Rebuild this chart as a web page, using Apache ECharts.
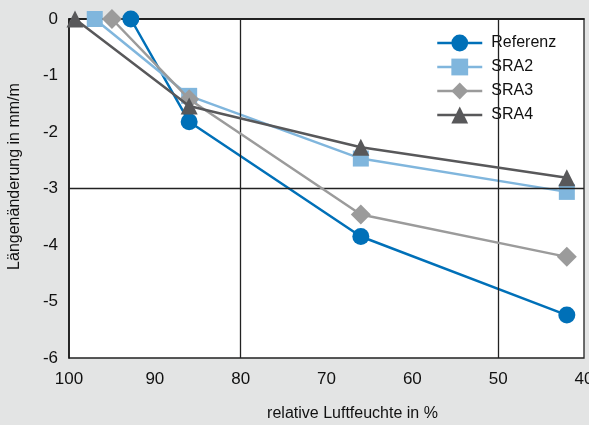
<!DOCTYPE html>
<html>
<head>
<meta charset="utf-8">
<script src="https://cdn.jsdelivr.net/npm/echarts@6/dist/echarts.min.js"></script>
<style>html,body{margin:0;padding:0;background:#e3e4e4;}#c{width:589px;height:425px;}</style>
</head>
<body>
<div id="c"></div>
<script>
const seriesNames = ['Referenz', 'SRA2', 'SRA3', 'SRA4'];
const referenz = [[92.8, 0], [86, -1.82], [66, -3.85], [42, -5.24]];
const sra2 = [[97, 0], [86, -1.36], [66, -2.47], [42, -3.06]];
const sra3 = [[95, 0], [86, -1.42], [66, -3.46], [42, -4.21]];
const sra4 = [[99.3, 0], [86, -1.54], [66, -2.27], [42, -2.81]];
const xTicks = [100, 90, 80, 70, 60, 50, 40];
const yTicks = [0, -1, -2, -3, -4, -5, -6];
const refLinesX = [80, 50];
const refLinesY = [-3];

const FONT = '"Liberation Sans", Arial, sans-serif';
const colors = ['#0070b8', '#80b6dd', '#9b9b9b', '#58585a'];
const symbols = ['circle', 'rect', 'diamond', 'triangle'];
const sizes = [17, 16, 20, 17];
const datas = [referenz, sra2, sra3, sra4];

const chart = echarts.init(document.getElementById('c'), null, {renderer: 'canvas'});
const series = datas.map((d, i) => ({
  name: seriesNames[i],
  type: 'line',
  data: d,
  symbol: symbols[i],
  symbolSize: sizes[i],
  clip: false,
  lineStyle: {color: colors[i], width: 2.5},
  itemStyle: {color: colors[i]},
  z: 3 + i
}));
series.push({
  type: 'line',
  data: [],
  silent: true,
  z: 1,
  markLine: {
    silent: true,
    symbol: 'none',
    label: {show: false},
    lineStyle: {color: '#222', width: 1.3, type: 'solid'},
    data: refLinesX.map(v => ({xAxis: v})).concat(refLinesY.map(v => ({yAxis: v})))
  }
});
const ts = {fontFamily: FONT, fontSize: 16, color: '#111'};
const tick = {fontFamily: FONT, fontSize: 17, color: '#111'};

chart.setOption({
  backgroundColor: '#e3e4e4',
  animation: false,
  color: colors,
  grid: {left: 69, right: 5, top: 19, bottom: 67, outerBoundsMode: 'none', containLabel: false,
    show: true, backgroundColor: '#ffffff', borderColor: '#222', borderWidth: 1.3},
  legend: {
    data: seriesNames,
    orient: 'vertical',
    left: 427,
    top: 28,
    backgroundColor: '#ffffff',
    padding: [6, 14, 4, 9],
    itemWidth: 45,
    itemHeight: 21,
    itemGap: 6,
    lineStyle: {width: 2.5},
    textStyle: Object.assign({lineHeight: 18, padding: [0, 0, 0, 4]}, ts)
  },
  xAxis: {
    type: 'value',
    inverse: true,
    min: 40, max: 100, interval: 10,
    name: 'relative Luftfeuchte in %',
    nameLocation: 'middle',
    nameGap: 48,
    nameTextStyle: Object.assign({padding: [0, 0, 0, 52]}, ts),
    axisLine: {show: true, lineStyle: {color: '#111', width: 1.5}},
    axisTick: {show: false},
    splitLine: {show: false},
    axisLabel: Object.assign({margin: 13, formatter: v => xTicks.includes(v) ? String(v) : ''}, tick)
  },
  yAxis: {
    type: 'value',
    min: -6, max: 0, interval: 1,
    name: 'Längenänderung in mm/m',
    nameLocation: 'middle',
    nameGap: 46,
    nameTextStyle: Object.assign({padding: [0, 0, 0, 24]}, ts),
    axisLine: {show: true, lineStyle: {color: '#111', width: 1.5}},
    axisTick: {show: false},
    splitLine: {show: false},
    axisLabel: Object.assign({margin: 11, formatter: v => yTicks.includes(v) ? String(v) : ''}, tick)
  },
  series: series
});
</script>
</body>
</html>
